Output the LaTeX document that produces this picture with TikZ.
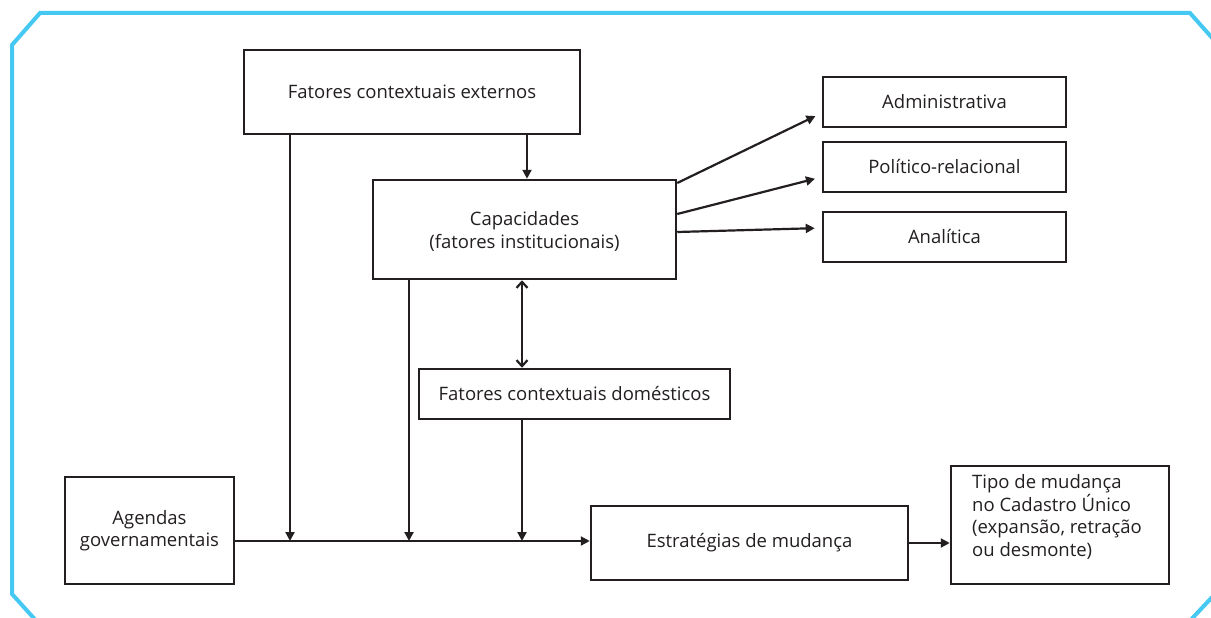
\documentclass[tikz,border=0pt]{standalone}
\usepackage{fontspec}
\setmainfont{Open Sans}
\usetikzlibrary{arrows.meta}
\definecolor{framec}{HTML}{45C8F2}
\definecolor{ink}{HTML}{231F20}
\begin{document}
\begin{tikzpicture}[x=1pt,y=-1pt,
  txt/.style={text=ink, inner sep=0pt, font=\fontsize{18.5}{22.5}\selectfont},
  box/.style={txt, draw=ink, line width=2.5pt, align=center},
  conn/.style={draw=ink, line width=2.2pt},
  arr/.style={conn, -{Triangle[length=9pt,width=9pt]}},
  darr/.style={conn, {Straight Barb[length=6pt,width=11pt]}-{Straight Barb[length=6pt,width=11pt]}},
  framel/.style={draw=framec, line width=4pt, line join=miter}]
\clip (0,0) rectangle (1211,618);
\fill[white] (0,0) rectangle (1211,618);
% frame
\draw[framel] (40,625) -- (12,594) -- (12,45) -- (40,13) -- (1190,13) -- (1230,58);
\draw[framel] (1186,625) -- (1230,578);
% boxes
\node[box, minimum width=336pt, minimum height=84pt] (ext) at (412,92) {Fatores contextuais externos};
\node[box, minimum width=303pt, minimum height=99pt] (cap) at (524.5,229.5) {};
\node[txt, align=center] (capt) at (524.5,231.5) {Capacidades\\(fatores institucionais)};
\node[box, minimum width=243pt, minimum height=50pt] (adm) at (944.5,102) {Administrativa};
\node[box, minimum width=243pt, minimum height=50pt] (pol) at (944.5,167) {Político-relacional};
\node[box, minimum width=243pt, minimum height=50pt] (ana) at (944.5,237) {Analítica};
\node[box, minimum width=311pt, minimum height=50pt] (dom) at (574.5,394) {Fatores contextuais domésticos};
\node[box, minimum width=169pt, minimum height=107pt] (age) at (149.5,530.5) {Agendas\\governamentais};
\node[box, minimum width=317pt, minimum height=74pt] (est) at (749.5,543) {Estratégias de mudança};
\node[box, minimum width=218pt, minimum height=118pt] (tipo) at (1060,525) {};
\node[txt, align=left, anchor=west] (tipot) at (972,517) {Tipo de mudança\\no Cadastro Único\\(expansão, retração\\ou desmonte)};
% helper coordinates
\coordinate (mainy) at (0,541);
\coordinate (xa) at (290,0);
\coordinate (xb) at (409,0);
\coordinate (xc) at (522,0);
\coordinate (xd) at (527,0);
% connectors
\draw[arr] (xd |- ext.south) -- (xd |- cap.north);
\draw[arr] (xa |- ext.south) -- (xa |- mainy);
\draw[arr] (xb |- cap.south) -- (xb |- mainy);
\draw[darr] (xc |- cap.south) -- (xc |- dom.north);
\draw[arr] (xc |- dom.south) -- (xc |- mainy);
\draw[arr] (age.east |- mainy) -- (est.west |- mainy);
\draw[arr] (est.east) -- (tipo.west |- est.east);
\draw[arr, shorten >=7pt] ([yshift=46.5pt]cap.east) -- ([yshift=-11pt]adm.west);
\draw[arr, shorten >=7pt] ([yshift=15.5pt]cap.east) -- ([yshift=-10pt]pol.west);
\draw[arr, shorten >=7pt] ([yshift=-2.5pt]cap.east) -- ([yshift=9pt]ana.west);
\end{tikzpicture}
\end{document}
